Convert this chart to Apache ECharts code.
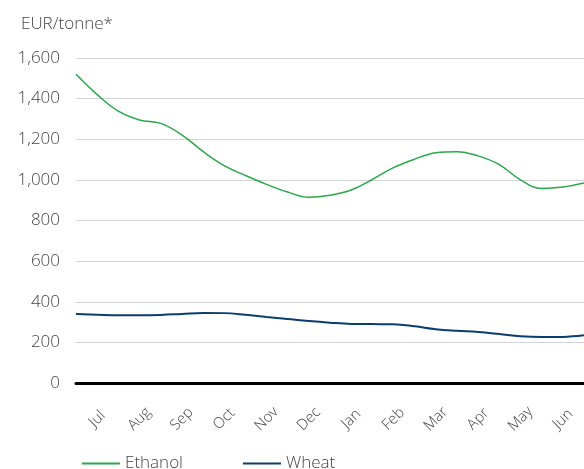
<!DOCTYPE html>
<html>
<head>
<meta charset="utf-8">
<script src="https://cdn.jsdelivr.net/npm/echarts@6/dist/echarts.min.js"></script>
<style>html,body{margin:0;padding:0;background:#fff}#c{width:584px;height:469px}</style>
</head>
<body>
<div id="c"></div>
<script>
const months = ['Jul','Aug','Sep','Oct','Nov','Dec','Jan','Feb','Mar','Apr','May','Jun'];
const yTicks = [0, 200, 400, 600, 800, 1000, 1200, 1400, 1600];
// semi-monthly readings (start of month, mid month), Jul .. end Jun
const ethanol = [1520,1420,1338,1295,1278,1222,1140,1070,1022,978,940,914,924,950,1002,1060,1102,1134,1139,1118,1075,1000,958,965,985];
const wheat   = [340,336,333,333,335,340,345,344,336,325,315,305,297,291,290,289,279,265,257,251,241,230,226,227,235];

const FONT = 'Open Sans';
const toPairs = arr => arr.map((v, i) => [i / 2, v]);

const chart = echarts.init(document.getElementById('c'), null, {renderer: 'canvas'});
chart.setOption({
  animation: false,
  textStyle: {fontFamily: FONT},
  title: {
    text: 'EUR/tonne*', left: 16, top: 11,
    textStyle: {fontFamily: FONT, fontSize: 17, fontWeight: 300, color: '#444'}
  },
  grid: {left: 76, right: 0, top: 58, bottom: 86, containLabel: false},
  legend: {
    left: 77, top: 450, itemWidth: 38, itemHeight: 2, itemGap: 60, icon: 'rect',
    textStyle: {fontFamily: FONT, fontSize: 17, fontWeight: 300, color: '#444'},
    data: ['Ethanol', 'Wheat']
  },
  xAxis: [
    {
      type: 'category', data: months, boundaryGap: true, position: 'bottom',
      axisLine: {show: true, onZero: false, lineStyle: {color: '#000', width: 3}},
      axisTick: {show: false},
      splitLine: {show: false},
      axisLabel: {
        interval: 0, rotate: 45, align: 'center', verticalAlign: 'middle', margin: 36,
        fontFamily: FONT, fontSize: 15, fontWeight: 300, color: '#444'
      }
    },
    {
      type: 'value', min: 0, max: 12, show: false, position: 'bottom'
    }
  ],
  yAxis: {
    type: 'value', min: yTicks[0], max: yTicks[yTicks.length - 1], interval: 200,
    axisLine: {show: false}, axisTick: {show: false},
    splitLine: {lineStyle: {color: '#d4d4d4', width: 1}},
    axisLabel: {margin: 16, fontFamily: FONT, fontSize: 17, fontWeight: 300, color: '#444'}
  },
  series: [
    {
      name: 'Ethanol', type: 'line', xAxisIndex: 1, smooth: 0.4, symbol: 'none',
      data: toPairs(ethanol), lineStyle: {color: '#2aa84a', width: 1.5}, itemStyle: {color: '#2aa84a'}
    },
    {
      name: 'Wheat', type: 'line', xAxisIndex: 1, smooth: 0.4, symbol: 'none',
      data: toPairs(wheat), lineStyle: {color: '#0b3d6e', width: 2}, itemStyle: {color: '#0b3d6e'}
    }
  ]
});
</script>
</body>
</html>
